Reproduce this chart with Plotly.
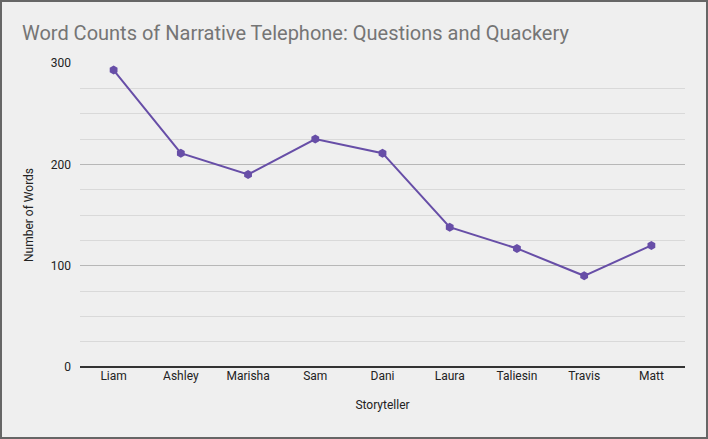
import plotly.graph_objects as go

storytellers = ["Liam", "Ashley", "Marisha", "Sam", "Dani", "Laura", "Taliesin", "Travis", "Matt"]
word_counts = [293, 211, 190, 225, 211, 138, 117, 90, 120]

W, H = 708, 439
ml, mr, mt, mb = 80, 23, 63, 72

fig = go.Figure()
fig.add_trace(go.Scatter(
    x=storytellers, y=word_counts, mode="lines+markers",
    line=dict(color="#674ea7", width=2),
    marker=dict(symbol="hexagon", size=9, color="#674ea7"),
    showlegend=False,
))

pw = W - ml - mr
ph = H - mt - mb
fig.add_shape(type="rect", xref="paper", yref="paper",
              x0=-ml / pw + 1 / pw, x1=1 + (mr - 1) / pw,
              y0=-mb / ph + 1 / ph, y1=1 + (mt - 1) / ph,
              line=dict(color="#666666", width=2), layer="below")

fig.update_layout(
    width=W, height=H,
    margin=dict(l=ml, r=mr, t=mt, b=mb),
    paper_bgcolor="#efefef", plot_bgcolor="#efefef",
    font=dict(family="Roboto", size=12, color="#222222"),
    title=dict(text="Word Counts of Narrative Telephone: Questions and Quackery",
               x=0.031, xanchor="left", y=0.925, yanchor="middle",
               font=dict(family="Roboto", size=20, color="#757575")),
    xaxis=dict(title=dict(text="Storyteller", standoff=18, font=dict(size=12)),
               range=[-0.5, len(storytellers) - 0.5],
               showgrid=False, showline=False, zeroline=False,
               tickfont=dict(size=12, color="#222222"), ticks=""),
    yaxis=dict(title=dict(text="Number of Words", standoff=14, font=dict(size=12)),
               range=[0, 300], tickvals=[0, 100, 200, 300],
               showgrid=True, gridcolor="#b7b7b7", gridwidth=1,
               minor=dict(dtick=25, showgrid=True, gridcolor="#d9d9d9", gridwidth=1),
               zeroline=True, zerolinecolor="#333333", zerolinewidth=1.5,
               ticks="", tickfont=dict(size=12, color="#222222"), ticklabelstandoff=8),
)

fig.write_html("out.html", config={"displayModeBar": False},
               post_script="document.body.style.margin='0px';document.body.style.overflow='hidden';")
